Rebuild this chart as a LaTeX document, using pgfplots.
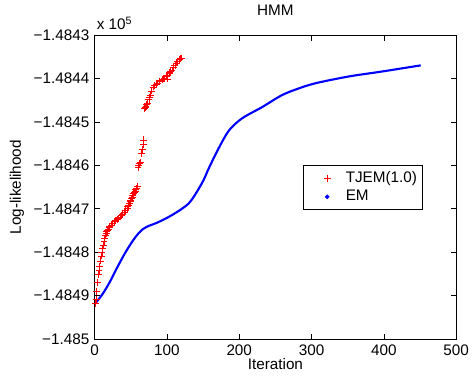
\documentclass[border=0pt]{standalone}
\usepackage{pgfplots}
\pgfplotsset{compat=1.18}
\usepackage{fontspec}
\setmainfont{Liberation Sans}
\begin{document}
\fontsize{11.5}{13.5}\selectfont
\begin{tikzpicture}
\begin{axis}[
  scale only axis, width=272.25pt, height=228.75pt,
  xmin=0, xmax=500, ymin=-1.485, ymax=-1.4843,
  xtick={0,100,200,300,400,500},
  xticklabels={0,100,200,300,400,500},
  ytick={-1.485,-1.4849,-1.4848,-1.4847,-1.4846,-1.4845,-1.4844,-1.4843},
  yticklabels={−1.485,−1.4849,−1.4848,−1.4847,−1.4846,−1.4845,−1.4844,−1.4843},
  tick align=inside, major tick length=4pt,
  tick style={black, line width=0.5pt},
  axis line style={black, line width=0.6pt},
  title={HMM}, xlabel={Iteration}, ylabel={Log-likelihood},
  title style={at={(axis description cs:0.5,1)}, anchor=center, yshift=12.75pt},
  xlabel style={at={(axis description cs:0.5,-0.084)}, anchor=center},
  ylabel style={at={(axis description cs:-0.2149,0.5)}, anchor=center},
  ticklabel style={font=\fontsize{11.5}{13.5}\selectfont},
  label style={font=\fontsize{11.5}{13.5}\selectfont},
  legend style={at={(0.576,0.574)}, anchor=north west, draw=black, line width=0.6pt,
    font=\fontsize{11.5}{13.5}\selectfont, inner xsep=2pt, inner ysep=3pt, row sep=0pt},
  legend cell align=left,
  clip=false,
]
\addplot[only marks, red, mark=+, mark size=2.6pt, mark options={line width=0.5pt},
  legend image code/.code={\path[draw=none] (0pt,0pt) -- (28pt,0pt);
    \draw[red, line width=0.5pt] plot[mark=+, mark size=2.6pt] coordinates {(16pt,0pt)};}] coordinates {
(1,-1.4849175) (2,-1.4849083) (3,-1.4848898) (4,-1.4848693) (5,-1.4848508) (6,-1.4848416)
(7,-1.4848324) (8,-1.4848201) (9,-1.4848088) (10,-1.4847996) (11,-1.4847914) (12,-1.4847832)
(13,-1.4847750) (14,-1.4847678) (15,-1.4847606) (16,-1.4847565) (17,-1.4847524) (18,-1.4847493)
(19,-1.4847463) (20,-1.4847432) (21,-1.4847401) (23,-1.4847370) (25,-1.4847340) (27,-1.4847299)
(29,-1.4847268) (31,-1.4847237) (33,-1.4847217) (35,-1.4847186) (37,-1.4847155) (39,-1.4847124)
(41,-1.4847083) (43,-1.4847042) (45,-1.4846991) (46,-1.4846950) (47,-1.4846919) (48,-1.4846878)
(49,-1.4846837) (50,-1.4846806) (51,-1.4846765) (52,-1.4846724) (53,-1.4846683) (54,-1.4846642)
(55,-1.4846612) (56,-1.4846591) (57,-1.4846560) (58,-1.4846529) (59,-1.4846489)
(60,-1.4846048) (61,-1.4846007) (62,-1.4845955) (63,-1.4845935)
(65,-1.4845730) (66,-1.4845638) (67,-1.4845525) (68,-1.4845412)
(69,-1.4844694) (70,-1.4844663) (71,-1.4844633) (72,-1.4844602) (73,-1.4844561) (75,-1.4844479)
(76,-1.4844428) (77,-1.4844376) (79,-1.4844284) (81,-1.4844192) (83,-1.4844151) (85,-1.4844120)
(87,-1.4844100) (90,-1.4844059) (93,-1.4844028) (95,-1.4844007) (97,-1.4843987) (99,-1.4843946)
(101,-1.4843915) (101,-1.4844007) (103,-1.4843874) (104,-1.4843854) (105,-1.4843833) (107,-1.4843802)
(109,-1.4843741) (111,-1.4843689) (113,-1.4843638) (115,-1.4843597) (117,-1.4843566) (118,-1.4843546)
(120,-1.4843525)
};
\addlegendentry{TJEM(1.0)}
\addplot[blue, line width=1.6pt, smooth, no marks,
  legend image code/.code={\path[draw=none] (0pt,0pt) -- (28pt,0pt); \fill[blue] (16pt,0) circle (0.7pt);}] coordinates {
(1,-1.4849179) (11,-1.4848964) (20.6,-1.4848697) (31,-1.4848359) (38.6,-1.4848123)
(45,-1.4847938) (56,-1.4847661) (66,-1.4847477) (76,-1.4847385) (86,-1.4847323)
(107.5,-1.4847139) (130.8,-1.4846862) (148.7,-1.4846400) (158,-1.4846062)
(172,-1.4845590) (186,-1.4845190) (204,-1.4844914) (231.5,-1.4844657) (259,-1.4844381)
(282,-1.4844227) (306,-1.4844104) (351.5,-1.4843950) (397,-1.4843837) (451,-1.4843694)
};
\addlegendentry{EM}
\node[anchor=base west, inner sep=0pt] at (axis description cs:0,1) [xshift=1.5pt, yshift=4pt] {x 10\textsuperscript{5}};
\path[draw=none] (axis description cs:0,0) ++(-71.25pt,-34.5pt) -- (axis description cs:1,1) ++(12pt,19.5pt);
\end{axis}
\end{tikzpicture}
\end{document}
